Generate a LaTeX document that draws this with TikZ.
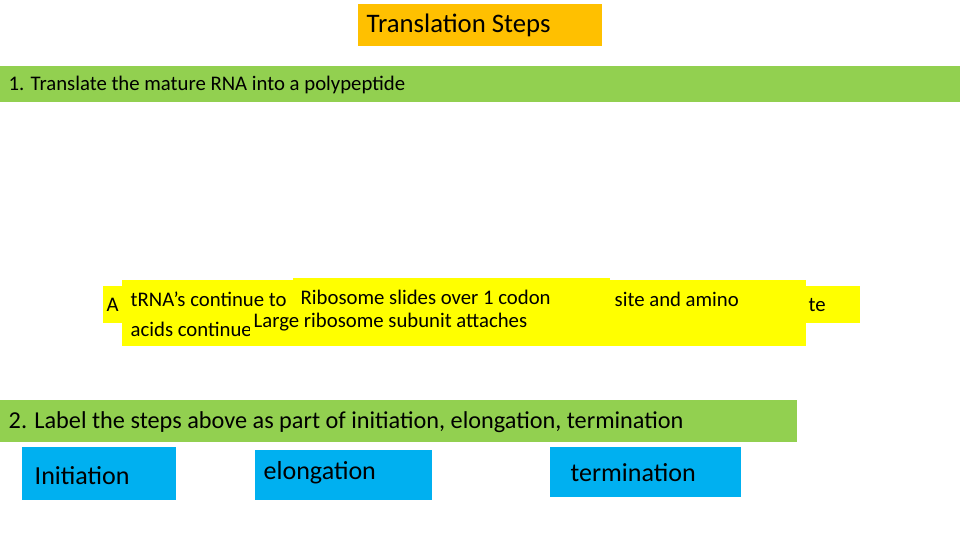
\documentclass[tikz,border=0pt]{standalone}
\usepackage{fontspec}
\setmainfont{Carlito}
\definecolor{gbar}{HTML}{92D050}
\definecolor{ttl}{HTML}{FFC000}
\definecolor{yel}{HTML}{FFFF00}
\definecolor{blu}{HTML}{00B0F0}
\tikzset{box/.style={fill=#1,draw=none},
 txt/.style={anchor=west,inner sep=0pt,font=\fontsize{#1}{#1}\selectfont}}
\begin{document}
\begin{tikzpicture}[x=0.01cm,y=-0.01cm]
\useasboundingbox[fill=white] (0,0) rectangle (960,540);
\fill[box=ttl] (358,4) rectangle (602,46);
\node[txt=7.6pt] (title) at (366,25) {Translation Steps};
\fill[box=gbar] (0,66) rectangle (960,102);
\node[txt=5.9pt] (q1) at (8,85) {1. Translate the mature RNA into a polypeptide};
% back yellow
\fill[box=yel] (103,286) rectangle (860,323);
\node[txt=5.9pt] (a) at (106,305) {A};
\node[txt=5.9pt] (te) at (808,305) {te};
\fill[box=yel] (122,280) rectangle (806,346);
\node[txt=5.9pt] (t1) at (130,299) {tRNA’s continue to};
\node[txt=5.9pt] (t2) at (614,299) {site and amino};
\node[txt=5.9pt] (t3) at (130,329) {acids continue};
\fill[box=yel] (293,278) rectangle (610,309);
\node[txt=5.9pt] (r1) at (300,297) {Ribosome slides over 1 codon};
\fill[box=yel] (250,308) rectangle (580,336);
\node[txt=5.9pt] (r2) at (253,322) {Large ribosome subunit attaches};
\fill[box=gbar] (0,400) rectangle (797,442);
\node[txt=6.9pt] (q2) at (8,422) {2. Label the steps above as part of initiation, elongation, termination};
\fill[box=blu] (22,447) rectangle (176,500);
\node[txt=7.4pt] (i) at (34,476) {Initiation};
\fill[box=blu] (255,450) rectangle (432,500);
\node[txt=7.4pt] (e) at (263,473) {elongation};
\fill[box=blu] (550,447) rectangle (741,497);
\node[txt=7.4pt] (tm) at (570,473) {termination};
\end{tikzpicture}
\end{document}
